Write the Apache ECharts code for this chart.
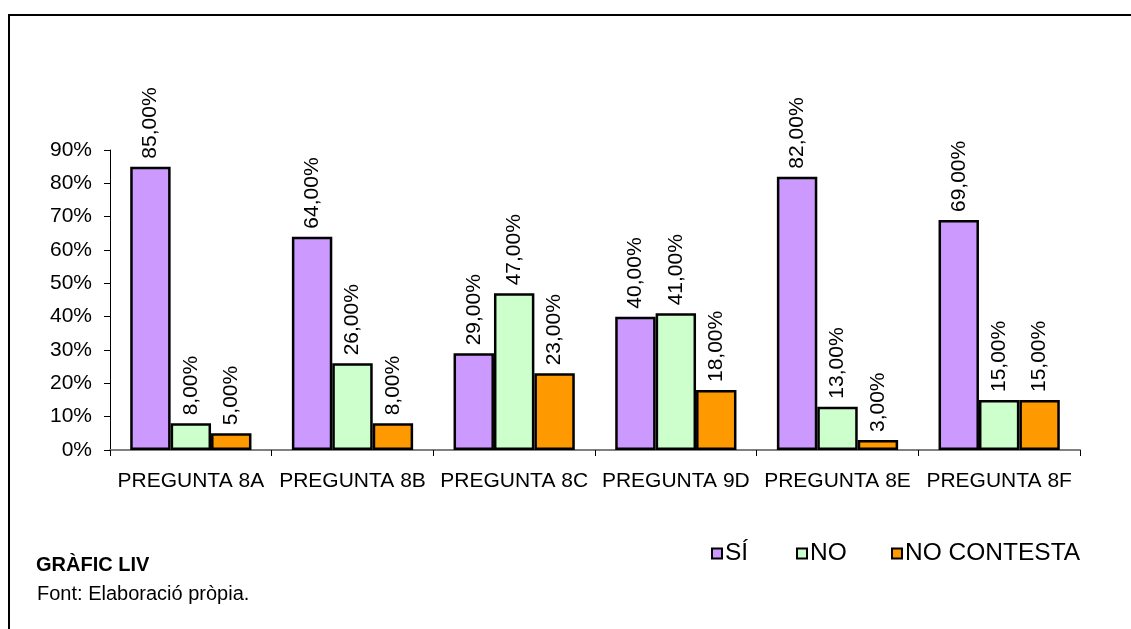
<!DOCTYPE html>
<html>
<head>
<meta charset="utf-8">
<script src="https://cdn.jsdelivr.net/npm/echarts@6/dist/echarts.min.js"></script>
<style>
html,body{margin:0;padding:0;background:#fff;}
#chart{width:1131px;height:629px;}
</style>
</head>
<body>
<div id="chart"></div>
<script>
var categories = ['PREGUNTA 8A','PREGUNTA 8B','PREGUNTA 8C','PREGUNTA 9D','PREGUNTA 8E','PREGUNTA 8F'];
var seriesNames = ['SÍ','NO','NO CONTESTA'];
var siValues = [85, 64, 29, 40, 82, 69];
var noValues = [8, 26, 47, 41, 13, 15];
var ncValues = [5, 8, 23, 18, 3, 15];
var yTicks = [0,10,20,30,40,50,60,70,80,90];

var colors = ['#CC99FF','#CCFFCC','#FF9900'];
var FONT = '"Liberation Sans", Arial, sans-serif';

function makeSeries(name, data, color){
  return {
    name: name,
    type: 'bar',
    data: data,
    barGap: '0%',
    barCategoryGap: '25%',
    itemStyle: {color: color, borderColor: '#000', borderWidth: 2.5},
    label: {
      show: true,
      position: 'top',
      rotate: 90,
      align: 'left',
      verticalAlign: 'middle',
      distance: 8,
      fontFamily: FONT,
      fontSize: 21,
      color: '#000',
      formatter: function(p){ return p.value.toFixed(2).replace('.', ',') + '%'; }
    },
    emphasis: {disabled: true},
    animation: false
  };
}

var legendLefts = [711, 796, 891];
var legends = seriesNames.map(function(n, i){
  return {
    data: [n],
    left: legendLefts[i],
    top: 541,
    padding: 0,
    itemWidth: 10,
    itemHeight: 10,
    icon: 'rect',
    itemStyle: {borderColor: '#000', borderWidth: 2},
    selectedMode: false,
    textStyle: {fontFamily: FONT, fontSize: 24.5, color: '#000', padding: [0,0,0,-2]}
  };
});

var chart = echarts.init(document.getElementById('chart'), null, {renderer:'canvas'});
chart.setOption({
  backgroundColor: '#fff',
  animation: false,
  textStyle: {fontFamily: FONT},
  grid: {left: 110, right: 51, top: 150, bottom: 179, containLabel: false},
  xAxis: {
    type: 'category',
    data: categories,
    axisLine: {lineStyle: {color: '#808080', width: 2}},
    axisTick: {show: true, length: 6, lineStyle: {color: '#000', width: 1}},
    axisLabel: {fontFamily: FONT, fontSize: 21, color: '#000', margin: 21, interval: 0}
  },
  yAxis: {
    type: 'value',
    min: yTicks[0],
    max: yTicks[yTicks.length-1],
    interval: 10,
    axisLine: {show: true, lineStyle: {color: '#000', width: 1}},
    axisTick: {show: true, length: 6, lineStyle: {color: '#000', width: 1}},
    splitLine: {show: false},
    axisLabel: {fontFamily: FONT, fontSize: 21, color: '#000', margin: 18, formatter: '{value}%'}
  },
  legend: legends,
  graphic: [
    {type: 'rect', silent: true, shape: {x: 9, y: 15, width: 1300, height: 800},
     style: {fill: 'none', stroke: '#000', lineWidth: 2}},
    {type: 'text', left: 36, top: 555, style: {text: 'GRÀFIC LIV', font: 'bold 20px ' + FONT, fill: '#000'}},
    {type: 'text', left: 37, top: 584, style: {text: 'Font: Elaboració pròpia.', font: '20px ' + FONT, fill: '#000'}}
  ],
  series: [
    makeSeries(seriesNames[0], siValues, colors[0]),
    makeSeries(seriesNames[1], noValues, colors[1]),
    makeSeries(seriesNames[2], ncValues, colors[2])
  ]
});
</script>
</body>
</html>
